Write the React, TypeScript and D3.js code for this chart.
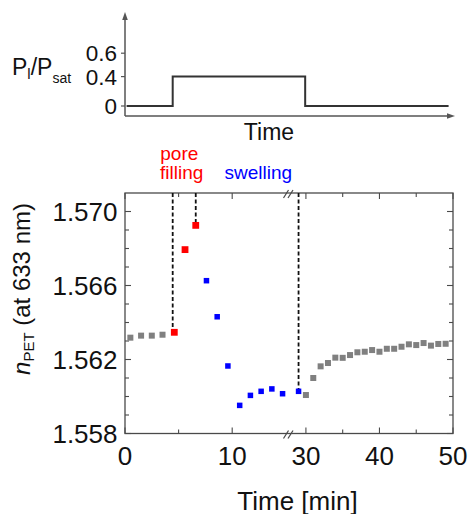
import React from 'react';
import * as d3 from 'd3';

// ---------- data ----------
const baselineTimes = [0.5, 1.5, 2.5, 3.5];
const baselineValues = [1.56318, 1.56329, 1.56329, 1.56334];

const poreTimes = [4.6, 5.6, 6.6];
const poreValues = [1.56347, 1.56794, 1.56925];

const swellTimes = [7.6, 8.6, 9.6, 10.7, 11.7, 12.7, 13.7, 14.7, 29];
const swellValues = [1.56626, 1.56431, 1.56165, 1.55952, 1.56006, 1.56028, 1.56041, 1.56015, 1.56028];

const recoveryTimes = [30, 31, 32, 33, 34, 35, 36, 37, 38, 39, 40, 41, 42, 43, 44, 45, 46, 47, 48, 49];
const recoveryValues = [
  1.56008, 1.5610, 1.56163, 1.56181, 1.5621, 1.56209, 1.56224, 1.56239, 1.56242, 1.56251,
  1.56242, 1.56258, 1.56258, 1.56269, 1.56282, 1.56278, 1.56289, 1.56275, 1.56284, 1.56285,
];

const eventTimes = [4.45, 6.6, 29];
const eventValues = [1.56347, 1.56925, 1.56028];

const yTicksMajor = [1.558, 1.562, 1.566, 1.57];
const yTicksMinor = [1.559, 1.56, 1.561, 1.563, 1.564, 1.565, 1.567, 1.568, 1.569];
const xTicksMajor = [0, 10, 30, 40, 50];
const xTicksMinor = [5, 35, 45];

const stepTimes = [0.15, 4.45, 29.9, 49.4];
const stepValues = [0, 0.4, 0, 0];
const topYTicks = [0, 0.4, 0.6];
const topYTickLabels = ['0', '0.4', '0.6'];

// ---------- layout ----------
const W = 469;
const H = 514;
const L = 125;
const R = 453;
const T = 193;
const B = 433.5;
const BREAK_X = 289;
const FONT = '"Liberation Sans", Arial, Helvetica, sans-serif';
const FRAME = '#4a4a4a';

const x = d3.scaleLinear().domain([0, 15.3, 27.7, 50]).range([L, BREAK_X, BREAK_X, R]);
const y = d3.scaleLinear().domain([1.558, 1.571]).range([B, T]);
const yTop = d3.scaleLinear().domain([0, 0.4, 0.6]).range([106, 76.6, 53.2]);
const TOP_AXIS_Y = 116;

const fmt = d3.format('.3f');

function Squares({ times, values, color, size }: { times: number[]; values: number[]; color: string; size: number }) {
  return (
    <g fill={color}>
      {times.map((t, i) => (
        <rect key={i} x={x(t) - size / 2} y={y(values[i]) - size / 2} width={size} height={size} />
      ))}
    </g>
  );
}

export default function App() {
  const stepLine = d3
    .line<number>()
    .x((_, i) => x(stepTimes[i]))
    .y((d) => yTop(d))
    .curve(d3.curveStepAfter)(stepValues) as string;

  const breakMark = (yy: number) => (
    <g stroke={FRAME} strokeWidth={1.2}>
      <line x1={BREAK_X - 5.5} y1={yy + 5} x2={BREAK_X - 0.5} y2={yy - 3} />
      <line x1={BREAK_X - 1} y1={yy + 5} x2={BREAK_X + 4} y2={yy - 3} />
    </g>
  );

  return (
    <svg
      width={W}
      height={H}
      style={{ position: 'absolute', left: 0, top: 0, background: '#fff' }}
      fontFamily={FONT}
    >
      {/* ---------- top schematic ---------- */}
      <g>
        <line x1={L} y1={TOP_AXIS_Y} x2={L} y2={18} stroke="#555" strokeWidth={1.5} />
        <polygon points={`${L},12 ${L - 2.8},20 ${L + 2.8},20`} fill="#555" />
        <line x1={L} y1={TOP_AXIS_Y} x2={R - 4} y2={TOP_AXIS_Y} stroke="#555" strokeWidth={1.5} />
        <polygon points={`${R + 2},${TOP_AXIS_Y} ${R - 6},${TOP_AXIS_Y - 2.8} ${R - 6},${TOP_AXIS_Y + 2.8}`} fill="#555" />
        {topYTicks.map((v, i) => (
          <g key={i}>
            <line x1={L - 4} x2={L} y1={yTop(v)} y2={yTop(v)} stroke="#555" strokeWidth={1.2} />
            <text x={117} y={yTop(v)} dy="0.36em" textAnchor="end" fontSize={22.5} fill="#111">
              {topYTickLabels[i]}
            </text>
          </g>
        ))}
        <path d={stepLine} fill="none" stroke="#333" strokeWidth={2} />
        <text x={12} y={75} fontSize={23} fill="#111">
          P
          <tspan fontSize={15} dy={4}>l</tspan>
          <tspan fontSize={23} dy={-4}>/P</tspan>
          <tspan fontSize={14} dy={8}>sat</tspan>
        </text>
        <text x={269} y={140} textAnchor="middle" fontSize={23} fill="#111">
          Time
        </text>
      </g>

      {/* ---------- annotations ---------- */}
      <text x={160.3} y={159.5} fontSize={19} fill="#ff0000">pore</text>
      <text x={160} y={179} fontSize={19} fill="#ff0000">filling</text>
      <text x={224.5} y={179} fontSize={19} fill="#0000ff">swelling</text>

      {/* ---------- main frame ---------- */}
      <rect x={L} y={T} width={R - L} height={B - T} fill="none" stroke={FRAME} strokeWidth={1.3} />

      {/* ticks */}
      <g stroke={FRAME} strokeWidth={1.1}>
        {yTicksMajor.map((v, i) => (
          <g key={'yM' + i}>
            <line x1={L} x2={L + 6} y1={y(v)} y2={y(v)} />
            <line x1={R} x2={R - 6} y1={y(v)} y2={y(v)} />
          </g>
        ))}
        {yTicksMinor.map((v, i) => (
          <g key={'ym' + i}>
            <line x1={L} x2={L + 4} y1={y(v)} y2={y(v)} />
            <line x1={R} x2={R - 4} y1={y(v)} y2={y(v)} />
          </g>
        ))}
        {xTicksMajor.map((v, i) => (
          <g key={'xM' + i}>
            <line x1={x(v)} x2={x(v)} y1={B} y2={B - 6} />
            <line x1={x(v)} x2={x(v)} y1={T} y2={T + 6} />
          </g>
        ))}
        {xTicksMinor.map((v, i) => (
          <g key={'xm' + i}>
            <line x1={x(v)} x2={x(v)} y1={B} y2={B - 4} />
            <line x1={x(v)} x2={x(v)} y1={T} y2={T + 4} />
          </g>
        ))}
      </g>

      {/* break marks */}
      {breakMark(T)}
      {breakMark(B)}

      {/* tick labels */}
      {yTicksMajor.map((v, i) => (
        <text key={'yl' + i} x={117.5} y={y(v)} dy="0.36em" textAnchor="end" fontSize={26} fill="#111">
          {fmt(v)}
        </text>
      ))}
      {xTicksMajor.map((v, i) => (
        <text key={'xl' + i} x={x(v)} y={465} textAnchor="middle" fontSize={26} fill="#111">
          {v}
        </text>
      ))}

      {/* axis titles */}
      <text x={297.5} y={509.5} textAnchor="middle" fontSize={26} fill="#111">
        Time [min]
      </text>
      <text transform="translate(30, 289) rotate(-90)" textAnchor="middle" fontSize={24} fill="#111">
        <tspan fontStyle="italic">n</tspan>
        <tspan fontSize={15} dy={4}>PET</tspan>
        <tspan dy={-4}> (at 633 nm)</tspan>
      </text>

      {/* dashed event lines */}
      <g stroke="#111" strokeWidth={1.8} strokeDasharray="4,2.5">
        {eventTimes.map((t, i) => (
          <line key={i} x1={x(t)} x2={x(t)} y1={T} y2={y(eventValues[i])} />
        ))}
      </g>

      {/* data */}
      <Squares times={baselineTimes} values={baselineValues} color="#808080" size={6} />
      <Squares times={recoveryTimes} values={recoveryValues} color="#808080" size={6} />
      <Squares times={swellTimes} values={swellValues} color="#0000ff" size={5.5} />
      <Squares times={poreTimes} values={poreValues} color="#ff0000" size={6.8} />
    </svg>
  );
}
